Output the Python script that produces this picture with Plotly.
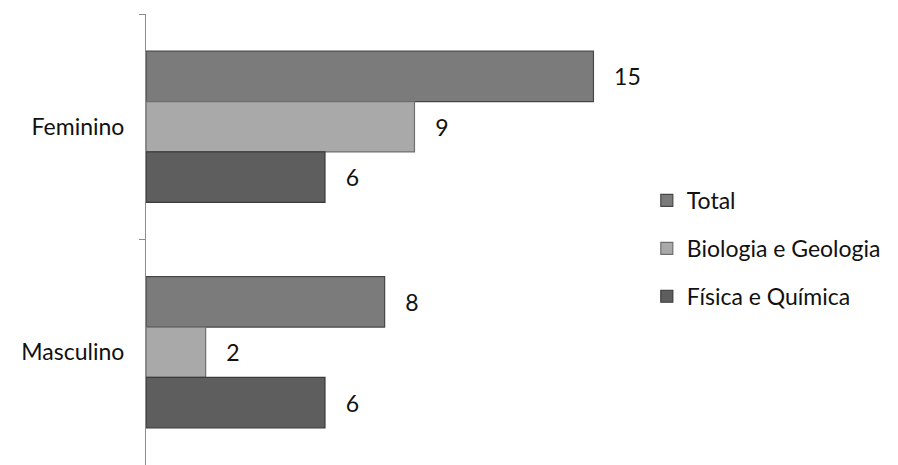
import plotly.graph_objects as go

categories = ["Feminino", "Masculino"]
total = [15, 8]
biologia_geologia = [9, 2]
fisica_quimica = [6, 6]

series = [
    ("Total", total, "#7b7b7b", "#474747"),
    ("Biologia e Geologia", biologia_geologia, "#a9a9a9", "#6f6f6f"),
    ("Física e Química", fisica_quimica, "#5e5e5e", "#3a3a3a"),
]

FONT = "Lato, 'Open Sans', sans-serif"
NBSP = "\u00a0"

fig = go.Figure()
for i, (name, vals, fill, edge) in enumerate(series):
    fig.add_trace(go.Bar(
        y=categories,
        x=vals,
        name=name,
        orientation="h",
        legendgroup=f"g{i}",
        marker=dict(color=fill, line=dict(color=edge, width=1.2)),
        text=[NBSP * 3 + str(v) for v in vals],
        textposition="outside",
        textfont=dict(family=FONT, size=23, color="#111111"),
        cliponaxis=False,
    ))

plot_w = 898 - 146 - 300
unit_px = 29.83

fig.update_layout(
    width=898,
    height=465,
    margin=dict(l=146, r=300, t=14, b=0),
    paper_bgcolor="white",
    plot_bgcolor="white",
    barmode="group",
    bargap=0.33,
    bargroupgap=0,
    font=dict(family=FONT, size=23, color="#111111"),
    showlegend=True,
    legend=dict(
        traceorder="grouped",
        x=1.108, xanchor="left",
        y=0.48, yanchor="middle",
        tracegroupgap=15,
        font=dict(family=FONT, size=23, color="#111111"),
        itemwidth=30,
    ),
    xaxis=dict(
        range=[0, plot_w / unit_px],
        visible=False,
        showgrid=False,
        zeroline=False,
    ),
    yaxis=dict(
        type="category",
        categoryorder="array",
        categoryarray=categories,
        autorange="reversed",
        showline=True,
        linecolor="#8c8c8c",
        linewidth=1,
        ticks="outside",
        tickson="boundaries",
        ticklen=6,
        tickcolor="#8c8c8c",
        ticklabelstandoff=16,
        showgrid=False,
        zeroline=False,
    ),
)

fig.write_html("out.html")
